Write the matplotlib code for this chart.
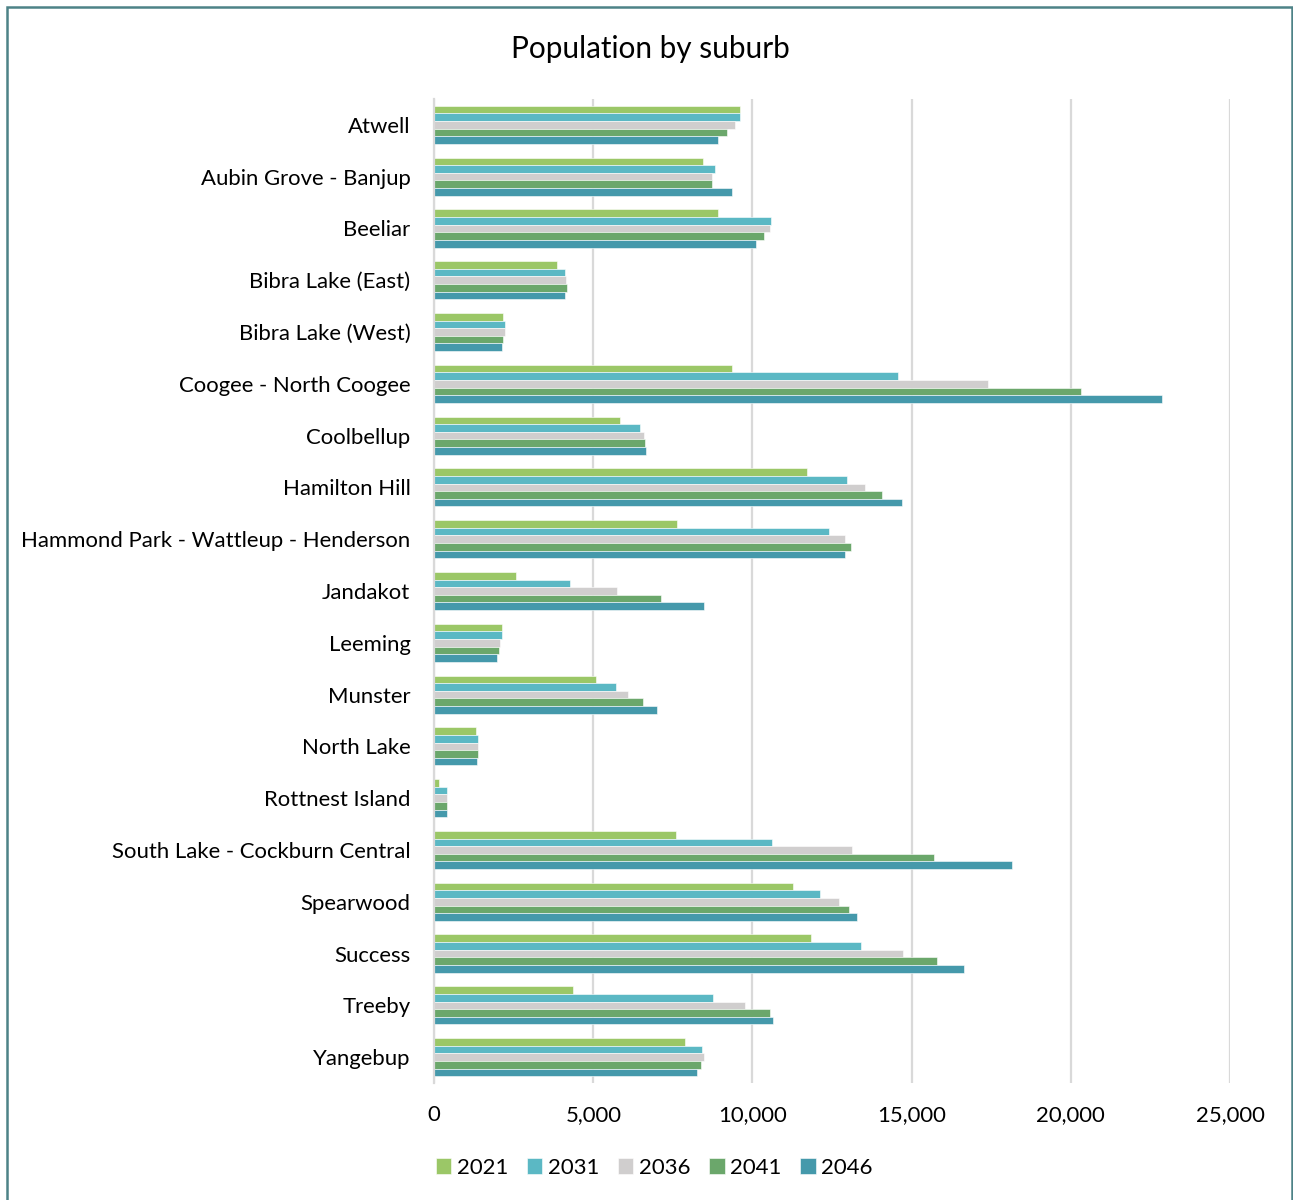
import numpy as np
import matplotlib
matplotlib.use('Agg')
import matplotlib.pyplot as plt
from matplotlib.patches import Rectangle
from matplotlib.ticker import FuncFormatter

# ── Data ────────────────────────────────
SUBURBS = [
    'Atwell', 'Aubin Grove - Banjup', 'Beeliar', 'Bibra Lake (East)',
    'Bibra Lake (West)', 'Coogee - North Coogee', 'Coolbellup', 'Hamilton Hill',
    'Hammond Park - Wattleup - Henderson', 'Jandakot', 'Leeming', 'Munster',
    'North Lake', 'Rottnest Island', 'South Lake - Cockburn Central',
    'Spearwood', 'Success', 'Treeby', 'Yangebup',
]
YEARS = ['2021', '2031', '2036', '2041', '2046']

pop_2021 = [9610, 8450, 8920, 3860, 2170, 9350, 5840, 11710, 7640, 2580,
            2140, 5090, 1320, 160, 7600, 11280, 11840, 4370, 7880]
pop_2031 = [9610, 8830, 10580, 4110, 2230, 14560, 6470, 12970, 12420, 4270,
            2140, 5720, 1380, 420, 10620, 12120, 13410, 8760, 8420]
pop_2036 = [9450, 8730, 10550, 4150, 2230, 17390, 6600, 13540, 12910, 5750,
            2070, 6090, 1380, 420, 13130, 12720, 14730, 9770, 8480]
pop_2041 = [9200, 8730, 10360, 4180, 2170, 20320, 6630, 14070, 13100, 7130,
            2040, 6560, 1380, 410, 15700, 13030, 15800, 10550, 8390]
pop_2046 = [8920, 9360, 10110, 4110, 2140, 22850, 6660, 14700, 12910, 8480,
            1980, 7000, 1350, 400, 18150, 13290, 16650, 10650, 8260]

SERIES = [pop_2021, pop_2031, pop_2036, pop_2041, pop_2046]
COLORS = ['#9BC767', '#5BB8C4', '#D0CECE', '#6BA76B', '#4599AB']

plt.rcParams['font.family'] = ['Lato', 'DejaVu Sans']

fig = plt.figure(figsize=(12.93, 12.0), dpi=100)
ax = fig.add_axes([0.3357, 0.0975, 0.6156, 0.82])

y = np.arange(len(SUBURBS))
bar_h = 0.147
for i, (vals, col, yr) in enumerate(zip(SERIES, COLORS, YEARS)):
    offset = (i - 2) * bar_h
    ax.barh(y + offset, vals, height=bar_h, color=col, label=yr,
            edgecolor='white', linewidth=0.4)

ax.set_ylim(len(SUBURBS) - 0.5, -0.5)
ax.set_xlim(0, 25000)
ax.set_xticks(np.arange(0, 25001, 5000))
ax.xaxis.set_major_formatter(FuncFormatter(lambda v, p: f'{int(v):,}'))
ax.set_yticks(y)
ax.set_yticklabels(SUBURBS)
ax.tick_params(axis='both', length=0, labelsize=15.9, colors='#000000')
ax.tick_params(axis='y', pad=17)
ax.tick_params(axis='x', pad=16)

ax.grid(axis='x', color='#D9D9D9', linewidth=1.6)
ax.set_axisbelow(True)
for s in ['top', 'right', 'bottom']:
    ax.spines[s].set_visible(False)
ax.spines['left'].set_color('#D9D9D9')
ax.spines['left'].set_linewidth(1.6)

fig.text(0.503, 0.959, 'Population by suburb', ha='center', va='center', fontsize=21.4)

leg = fig.legend(loc='center', bbox_to_anchor=(0.506, 0.027), ncol=5, frameon=False,
                 fontsize=15.9, handlelength=0.7, handleheight=0.7,
                 handletextpad=0.25, columnspacing=0.85)

# outer frame
fig.patches.append(Rectangle((7 / 1293, -0.01), 1285 / 1293, 1.0 - 7 / 1200 + 0.01,
                             transform=fig.transFigure, fill=False,
                             edgecolor='#4D8287', linewidth=1.8))

fig.savefig('out.png', dpi=100)
